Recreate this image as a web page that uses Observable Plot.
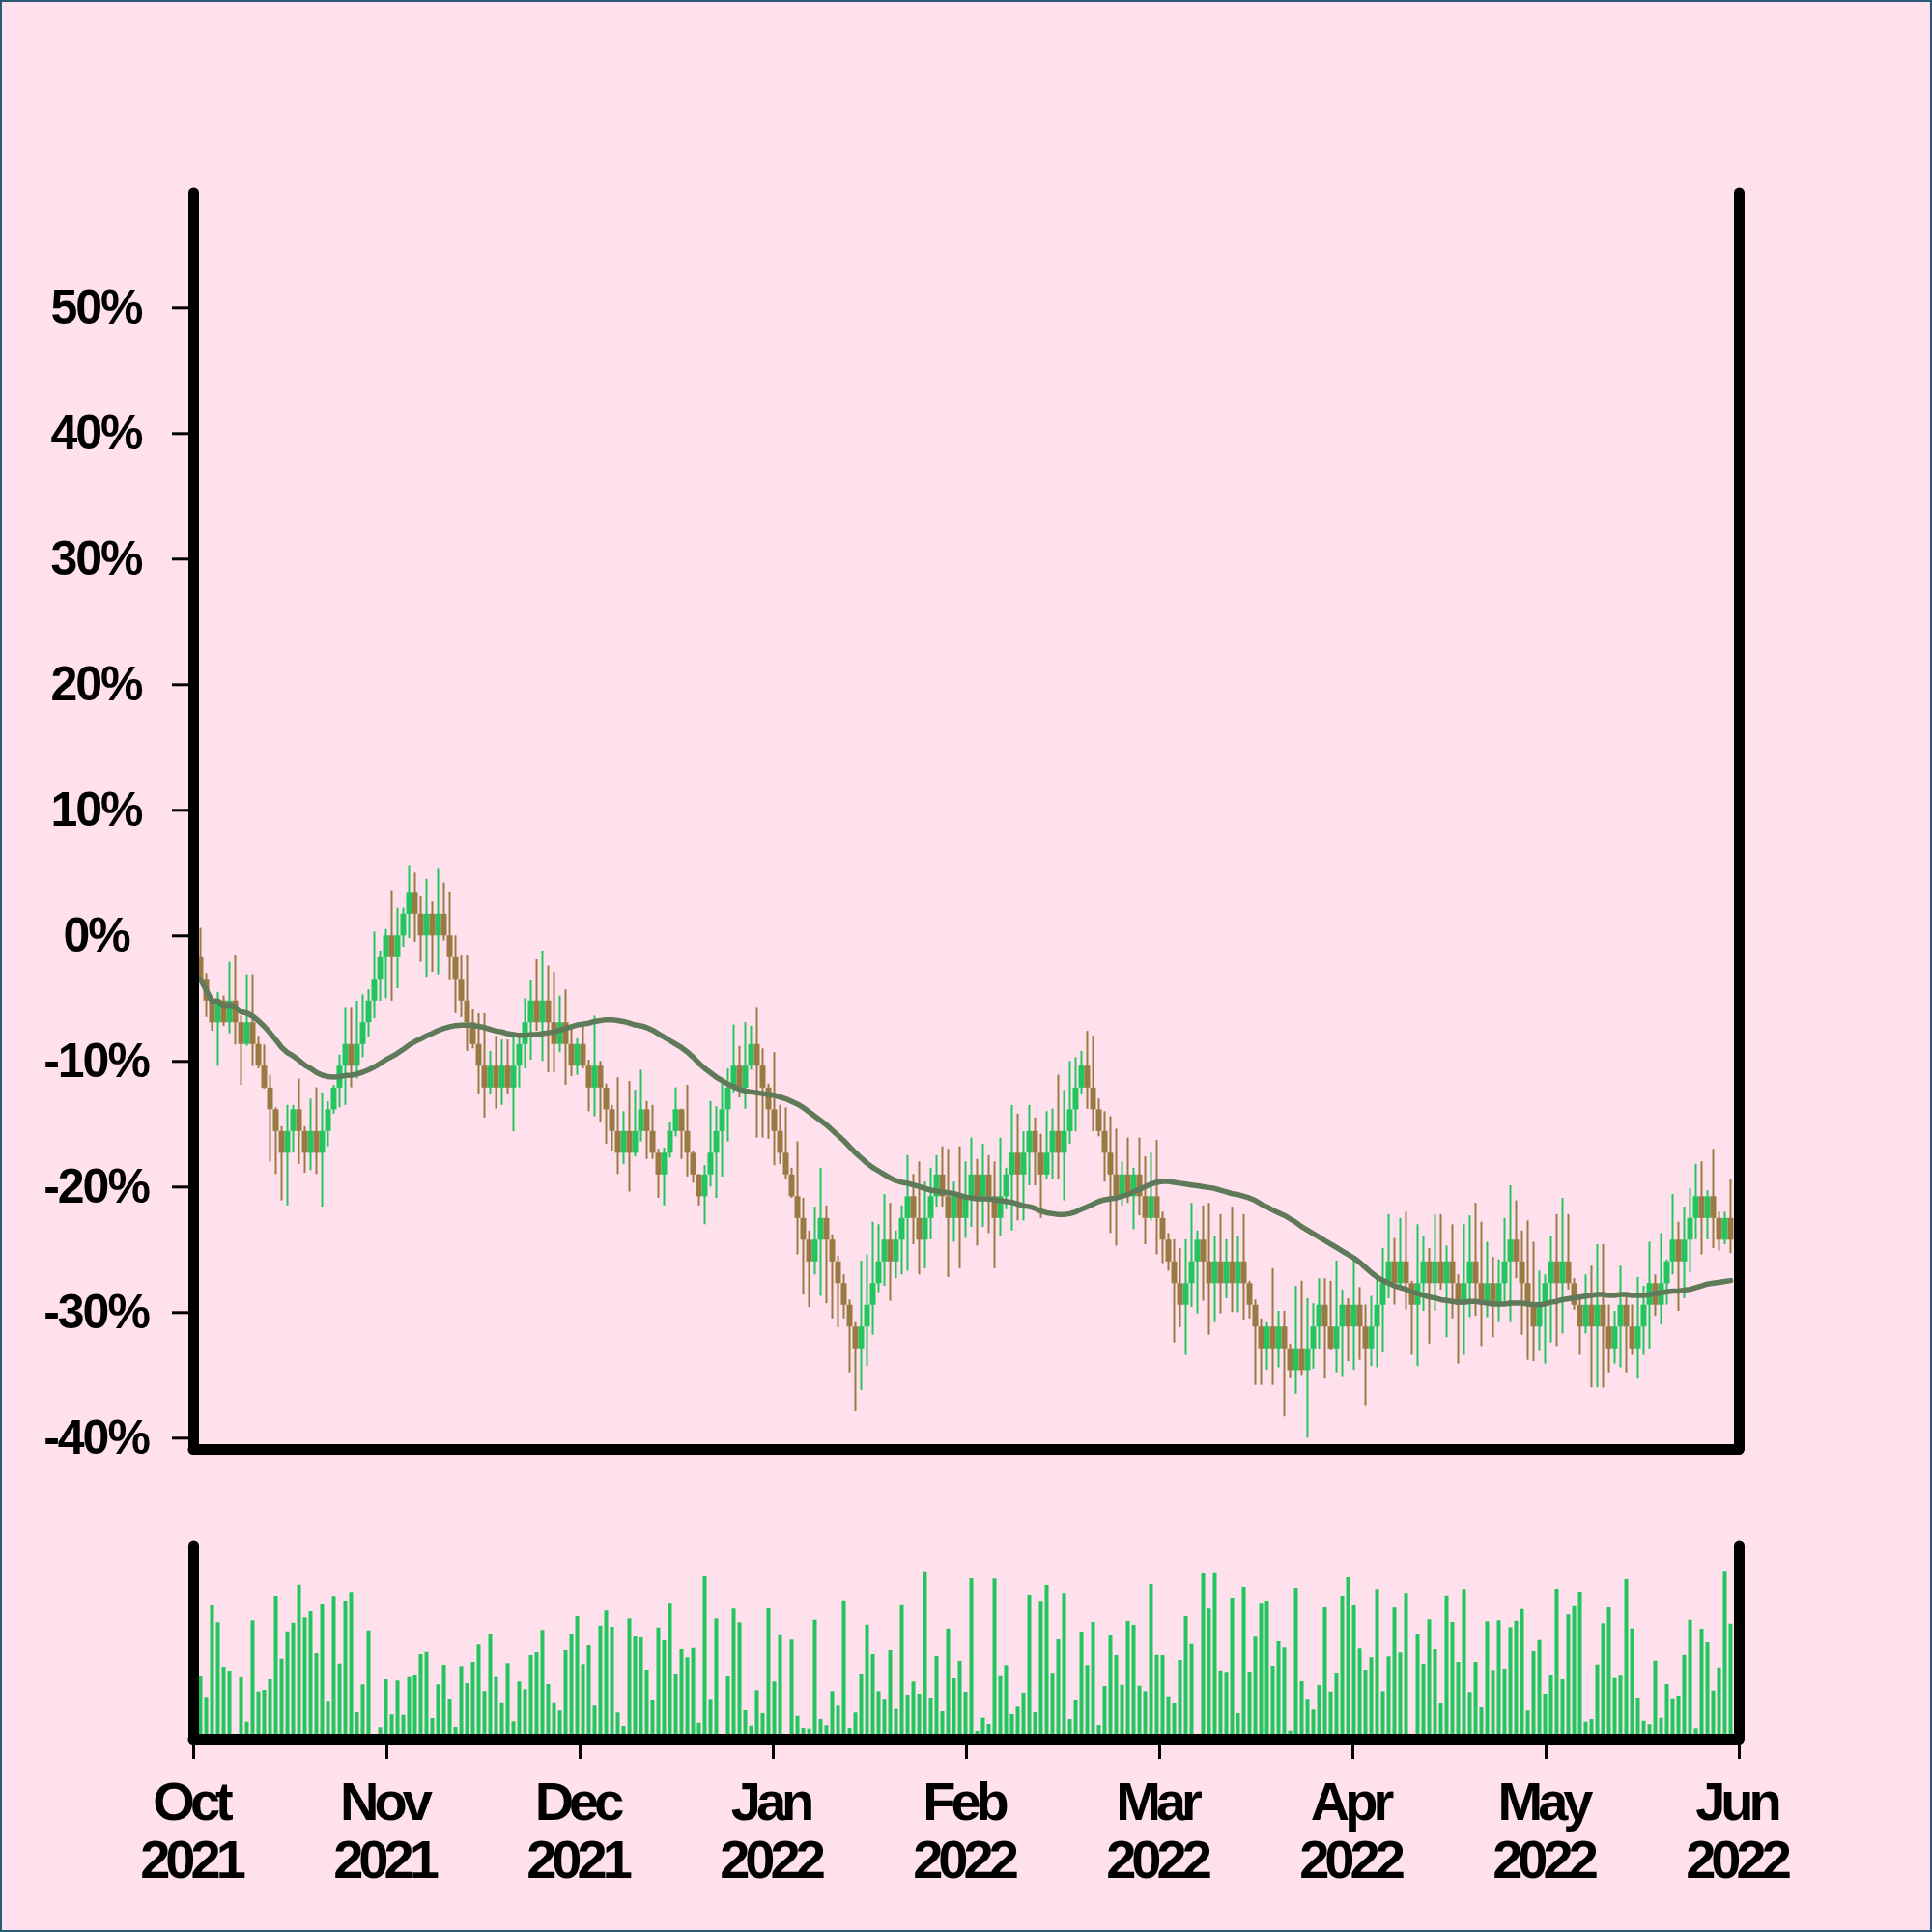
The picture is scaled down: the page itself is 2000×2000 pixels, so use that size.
<!DOCTYPE html>
<html>
<head>
<meta charset="utf-8">
<script src="https://cdn.jsdelivr.net/npm/d3@7"></script>
<script src="https://cdn.jsdelivr.net/npm/@observablehq/plot@0.6"></script>
<style>
  html, body { margin: 0; padding: 0; background: #fee1ed; }
  #wrap { position: relative; width: 2000px; height: 2000px; background: #fee1ed; overflow: hidden; }
  #wrap > svg { position: absolute; left: 0; display: block; }
  #border { position: absolute; left: 0; top: 0; width: 2000px; height: 2000px; box-sizing: border-box; border: 2px solid #2b5876; pointer-events: none; }
  #wrap svg text { font-family: "Liberation Sans", Arial, Helvetica, sans-serif; font-size: 50px; font-weight: bold; letter-spacing: -2px; fill: #000; }
  #wrap svg g[aria-label="text"] text { font-size: 56px; letter-spacing: -5px; }
  #wrap svg [aria-label="y-axis tick"], #wrap svg [aria-label="x-axis tick"] { stroke-width: 3px; stroke: #000; }
  #wrap svg [aria-label="y-axis"] .tick line, #wrap svg [aria-label="x-axis"] .tick line { stroke-width: 3px; stroke: #000; }
  #wrap svg [aria-label="y-axis tick label"] text, #wrap svg [aria-label="y-axis"] .tick text { text-anchor: middle; }
</style>
</head>
<body>
<div id="wrap"><div id="border"></div></div>
<script>
// ---------- data (percent change, one bar per session) ----------
const months = ["Oct", "Nov", "Dec", "Jan", "Feb", "Mar", "Apr", "May", "Jun"];
const years  = ["2021", "2021", "2021", "2022", "2022", "2022", "2022", "2022", "2022"];
const yTicks = [-40, -30, -20, -10, 0, 10, 20, 30, 40, 50];

const firstOpen = -1.73;
const closes = [
  -3.46,-5.19,-6.92,-5.19,-6.92,-5.19,-6.92,-8.65,-6.92,-8.65,
  -10.38,-12.12,-13.85,-15.58,-17.31,-15.58,-13.85,-15.58,-17.31,-15.58,
  -17.31,-15.58,-13.85,-12.12,-10.38,-8.65,-10.38,-8.65,-6.92,-5.19,
  -3.46,-1.73,0,-1.73,0,1.73,3.46,1.73,0,1.73,
  0,1.73,0,-1.73,-3.46,-5.19,-6.92,-8.65,-10.38,-12.12,
  -10.38,-12.12,-10.38,-12.12,-10.38,-8.65,-6.92,-5.19,-6.92,-5.19,
  -6.92,-8.65,-6.92,-8.65,-10.38,-8.65,-10.38,-12.12,-10.38,-12.12,
  -13.85,-15.58,-17.31,-15.58,-17.31,-15.58,-13.85,-15.58,-17.31,-19.04,
  -17.31,-15.58,-13.85,-15.58,-17.31,-19.04,-20.77,-19.04,-17.31,-15.58,
  -13.85,-12.12,-10.38,-12.12,-10.38,-8.65,-10.38,-12.12,-13.85,-15.58,
  -17.31,-19.04,-20.77,-22.5,-24.23,-25.96,-24.23,-22.5,-24.23,-25.96,
  -27.69,-29.42,-31.15,-32.88,-31.15,-29.42,-27.69,-25.96,-24.23,-25.96,
  -24.23,-22.5,-20.77,-22.5,-24.23,-22.5,-20.77,-19.04,-20.77,-22.5,
  -20.77,-22.5,-20.77,-19.04,-20.77,-19.04,-20.77,-22.5,-20.77,-19.04,
  -17.31,-19.04,-17.31,-15.58,-17.31,-19.04,-17.31,-15.58,-17.31,-15.58,
  -13.85,-12.12,-10.38,-12.12,-13.85,-15.58,-17.31,-19.04,-20.77,-19.04,
  -20.77,-19.04,-20.77,-22.5,-20.77,-22.5,-24.23,-25.96,-27.69,-29.42,
  -27.69,-25.96,-24.23,-25.96,-27.69,-25.96,-27.69,-25.96,-27.69,-25.96,
  -27.69,-29.42,-31.15,-32.88,-31.15,-32.88,-31.15,-32.88,-34.62,-32.88,
  -34.62,-32.88,-31.15,-29.42,-31.15,-32.88,-31.15,-29.42,-31.15,-29.42,
  -31.15,-32.88,-31.15,-29.42,-27.69,-25.96,-27.69,-25.96,-27.69,-29.42,
  -27.69,-25.96,-27.69,-25.96,-27.69,-25.96,-27.69,-29.42,-27.69,-25.96,
  -27.69,-29.42,-27.69,-29.42,-27.69,-25.96,-24.23,-25.96,-27.69,-29.42,
  -31.15,-29.42,-27.69,-25.96,-27.69,-25.96,-27.69,-29.42,-31.15,-29.42,
  -31.15,-29.42,-31.15,-32.88,-31.15,-29.42,-31.15,-32.88,-31.15,-29.42,
  -27.69,-29.42,-27.69,-25.96,-24.23,-25.96,-24.23,-22.5,-20.77,-22.5,
  -20.77,-22.5,-24.23,-22.5,-24.23
];
const highs = [
  0.6,-3.0,-4.8,-4.5,-4.8,-2.1,-1.6,-6.4,-3.1,-3.1,
  -8.0,-8.7,-11.1,-13.7,-15.2,-13.5,-13.5,-11.4,-15.2,-13.0,
  -12.1,-12.5,-13.2,-11.9,-9.5,-5.7,-5.7,-5.2,-4.7,-4.3,
  0.3,-1.2,0.5,3.6,2.2,2.2,5.6,5.0,3.1,4.5,
  2.7,5.3,4.2,3.5,0.0,-1.6,-1.6,-5.9,-6.2,-6.2,
  -9.2,-8.0,-8.3,-8.3,-8.1,-8.0,-5.0,-3.6,-1.9,-1.2,
  -2.4,-2.9,-4.8,-4.3,-7.2,-8.2,-7.1,-9.9,-6.4,-10.0,
  -11.8,-13.5,-11.3,-14.0,-11.6,-12.3,-10.7,-13.2,-13.5,-17.0,
  -16.9,-14.9,-12.1,-13.8,-11.9,-17.2,-19.0,-18.3,-13.2,-13.6,
  -11.4,-10.6,-7.1,-8.8,-6.9,-7.2,-5.7,-9.0,-11.8,-9.3,
  -13.5,-13.7,-18.5,-16.4,-20.9,-23.5,-21.6,-18.5,-21.5,-23.8,
  -25.5,-27.0,-29.0,-30.8,-25.9,-25.4,-22.8,-23.0,-20.6,-21.3,
  -23.5,-21.5,-17.5,-19.0,-18.0,-19.6,-18.5,-17.5,-16.8,-17.0,
  -19.6,-16.8,-18.0,-16.1,-17.8,-16.6,-17.5,-18.0,-16.1,-18.5,
  -13.5,-14.2,-15.6,-13.5,-14.5,-15.8,-14.0,-13.8,-11.1,-12.3,
  -10.0,-9.7,-9.2,-7.6,-8.0,-13.0,-14.0,-14.4,-15.4,-18.0,
  -16.1,-18.5,-16.1,-17.6,-17.3,-16.3,-22.0,-23.7,-24.2,-24.9,
  -24.2,-21.3,-23.5,-21.5,-21.3,-23.9,-22.2,-24.2,-21.6,-23.9,
  -22.2,-27.5,-29.0,-30.5,-30.8,-26.5,-29.9,-29.9,-32.5,-27.9,
  -27.5,-28.9,-29.3,-27.3,-27.3,-27.5,-25.9,-28.2,-28.9,-25.8,
  -28.0,-29.4,-28.7,-27.3,-24.9,-22.2,-24.1,-22.5,-22.0,-27.5,
  -23.0,-23.9,-24.9,-22.2,-22.2,-24.7,-23.0,-27.0,-23.0,-22.3,
  -21.3,-22.8,-24.4,-25.6,-25.8,-22.5,-19.9,-21.1,-23.5,-22.7,
  -24.4,-26.7,-27.0,-23.9,-22.2,-20.9,-22.2,-27.3,-28.9,-27.0,
  -26.3,-24.6,-24.6,-29.4,-29.9,-26.3,-28.4,-29.4,-27.2,-27.9,
  -24.4,-27.0,-23.7,-25.8,-20.6,-22.8,-21.6,-20.1,-18.2,-18.0,
  -20.3,-17.0,-22.0,-22.0,-19.4
];
const lows = [
  -3.6,-6.5,-7.6,-10.4,-7.2,-7.8,-8.7,-11.9,-8.8,-10.4,
  -10.6,-12.2,-18.0,-19.0,-21.1,-21.5,-17.3,-18.2,-18.9,-18.7,
  -19.0,-21.6,-16.8,-14.2,-13.7,-13.5,-12.1,-11.4,-9.7,-8.1,
  -6.6,-5.2,-5.0,-5.2,-4.2,-0.9,-0.2,-0.5,-2.1,-3.3,
  -2.9,-3.1,-0.4,-3.5,-6.2,-6.5,-9.2,-9.0,-12.6,-14.5,
  -12.6,-13.8,-13.5,-12.6,-15.6,-12.1,-10.6,-9.9,-7.6,-10.0,
  -10.9,-10.9,-9.3,-11.9,-11.2,-11.1,-10.6,-14.0,-14.4,-14.9,
  -16.6,-17.2,-19.0,-18.2,-20.4,-17.6,-16.4,-17.8,-17.8,-20.9,
  -21.5,-17.7,-16.0,-17.8,-19.2,-19.7,-21.5,-23.0,-20.0,-20.9,
  -19.2,-16.4,-12.5,-12.9,-13.8,-10.7,-16.1,-16.1,-16.2,-18.3,
  -18.2,-19.4,-20.9,-25.4,-28.6,-29.6,-27.0,-28.7,-29.3,-30.5,
  -31.2,-30.5,-34.8,-37.9,-36.2,-34.3,-31.8,-28.4,-27.9,-29.1,
  -27.3,-27.0,-26.7,-24.6,-27.0,-26.5,-24.2,-21.6,-21.6,-27.2,
  -24.4,-26.5,-24.1,-23.2,-24.7,-23.2,-23.7,-26.5,-23.9,-21.8,
  -23.5,-22.7,-22.7,-19.9,-19.9,-22.5,-19.4,-19.4,-19.4,-21.1,
  -16.6,-15.6,-12.6,-13.8,-15.6,-16.0,-19.6,-23.7,-24.7,-21.5,
  -21.3,-23.4,-22.3,-24.6,-22.7,-25.4,-26.1,-26.7,-32.4,-31.2,
  -33.4,-29.6,-30.1,-29.1,-31.8,-30.8,-30.1,-28.9,-30.0,-30.0,
  -30.6,-30.5,-35.8,-35.8,-34.6,-35.8,-34.4,-38.3,-35.2,-36.5,
  -35.0,-40.0,-34.5,-32.9,-35.3,-33.0,-34.8,-35.1,-33.9,-34.6,
  -33.8,-37.4,-34.3,-34.4,-33.2,-28.9,-29.4,-28.0,-29.8,-33.4,
  -34.3,-29.9,-32.5,-29.9,-28.2,-32.0,-30.5,-34.1,-33.4,-30.4,
  -30.3,-32.7,-30.4,-32.0,-30.8,-29.4,-30.8,-27.3,-31.8,-33.8,
  -33.9,-33.1,-34.1,-32.4,-32.7,-31.7,-28.2,-29.8,-33.4,-31.7,
  -36.0,-36.0,-36.0,-34.8,-34.1,-34.4,-34.8,-33.4,-35.3,-33.4,
  -32.9,-30.3,-31.0,-29.4,-27.0,-29.9,-28.9,-26.8,-24.2,-25.4,
  -24.2,-24.9,-25.1,-24.6,-25.3
];
const volumes = [
  65,42.7,139,120.7,74,70,0,64,17.3,122.7,48.3,51,62,148,83.3,111.3,120.3,159.3,125.7,132,
  89,140,38.7,147.7,77.3,143,151.7,28,56.7,112.3,0,11.7,62,25.7,
  60.7,25.3,64.3,66,88,90.3,22,56.7,76,41,12,74.7,58,79,97.7,48.7,109,64.3,37.3,77.7,
  17.7,59.7,51.7,87,90,112.7,57,37.3,29.7,92,108,127,76.7,97,34.7,117.3,132.7,116,27.7,13,
  124.7,106,105,71,40,115.3,102,140.7,67,93,84.7,94.3,16.3,169,40.7,124.7,0,65,134.7,120.7,
  30,13.3,49.7,27,
  135,59.7,107.3,0,102.7,24.3,11,10.3,123.3,20.7,13.7,48.7,34.7,143.3,11,27.7,67,118.3,88,48.7,
  40.7,92,31.3,139.3,45,59.7,46,173.3,42,86,29,114.3,63,81,
  48,166,8,22.3,15,165.7,65.3,75.7,26,33.7,47,149,28,142.7,159,67.7,103,150.7,21,40,
  111,75.7,121,14,55,107,87,56.3,122,118,55.3,48.7,160,87.3,87,
  43.3,37,82,127,98.3,0,172,134.7,172.3,70.3,68.7,146,27,157,69,105.7,140.7,143,75,101,
  94.7,8.3,156,60,40.7,30.7,56,
  136,48.3,68,148,167.7,138.7,93.7,71,84.7,154.7,48.7,85.7,135.7,89.7,150.7,0,108.7,77,123.7,93,
  37,148.3,121,79,154.7,47.7,80,33,121.7,70.7,122.7,72,115.7,122.3,134.3,29.7,91,
  102.3,46,66,155,62,128.7,137.3,152,17.3,21,76.3,119.7,136,63.3,65.7,165,114.3,42,18.3,14.7,
  81.3,22.3,57,41.3,44,87.3,123.3,10.7,114,100,49.3,73.3,173.7,119.3
];

// ---------- styling ----------
const GREEN = "#22c55e";
const BROWN = "#9a7a43";
const MA = "#5f7a58";
const MA_WINDOW = 50;

// ---------- derived table ----------
const candles = closes.map((c, i) => ({
  i,
  open: i === 0 ? firstOpen : closes[i - 1],
  close: c,
  high: highs[i],
  low: lows[i],
  volume: volumes[i]
}));
const up = d => d.close >= d.open;
const down = d => d.close < d.open;

// x scale in bar units: 8 equal month intervals, first bar 7/6 bar after the first month
const barsPerMonth = 100 / 3;
const x0 = -7 / 6;
const xDomain = [x0, x0 + 8 * barsPerMonth];
const monthTicks = months.map((m, k) => x0 + k * barsPerMonth);

const axisRule = {stroke: "black", strokeWidth: 11, strokeLinecap: "round"};
const fontStyle = "background: transparent; overflow: visible; color: black; font-family: 'Liberation Sans', Arial, sans-serif; font-size: 50px; font-weight: bold; letter-spacing: -2px;";

const main = Plot.plot({
  width: 2000,
  height: 1500,
  marginTop: 200,
  marginBottom: 0,
  marginLeft: 200,
  marginRight: 200,
  style: fontStyle,
  x: {domain: xDomain, axis: null},
  y: {domain: [-40.9, 59.1], ticks: yTicks, tickFormat: d => `${d}%`, tickSize: 22, tickPadding: 79, label: null},
  marks: [
    Plot.ruleX(candles, {filter: up, x: "i", y1: "low", y2: "high", stroke: GREEN, strokeWidth: 2}),
    Plot.ruleX(candles, {filter: down, x: "i", y1: "low", y2: "high", stroke: BROWN, strokeWidth: 2}),
    Plot.ruleX(candles, {filter: up, x: "i", y1: "open", y2: "close", stroke: GREEN, strokeWidth: 6}),
    Plot.ruleX(candles, {filter: down, x: "i", y1: "open", y2: "close", stroke: BROWN, strokeWidth: 6}),
    Plot.lineY(candles, Plot.windowY({k: MA_WINDOW, anchor: "end", reduce: "mean", strict: false},
      {x: "i", y: "close", stroke: MA, strokeWidth: 5.5})),
    Plot.ruleX(xDomain, axisRule),
    Plot.ruleY([-40.9], axisRule)
  ]
});
main.style.top = "0px";

const vol = Plot.plot({
  width: 2000,
  height: 500,
  marginTop: 100,
  marginBottom: 200,
  marginLeft: 200,
  marginRight: 200,
  style: fontStyle,
  x: {domain: xDomain, ticks: monthTicks, tickSize: 21, tickFormat: () => "", label: null},
  y: {domain: [0, 200], axis: null},
  marks: [
    Plot.ruleX(candles, {x: "i", y1: 0, y2: "volume", stroke: GREEN, strokeWidth: 4}),
    Plot.ruleX(xDomain, axisRule),
    Plot.ruleY([0], axisRule),
    Plot.text(monthTicks, {x: d => d, text: (d, k) => months[k], frameAnchor: "bottom", lineAnchor: "middle", dy: 66, dx: -3}),
    Plot.text(monthTicks, {x: d => d, text: (d, k) => years[k], frameAnchor: "bottom", lineAnchor: "middle", dy: 126, dx: -3})
  ]
});
vol.style.top = "1500px";

const wrap = document.getElementById("wrap");
wrap.insertBefore(main, wrap.firstChild);
wrap.insertBefore(vol, wrap.firstChild.nextSibling);
</script>
</body>
</html>
